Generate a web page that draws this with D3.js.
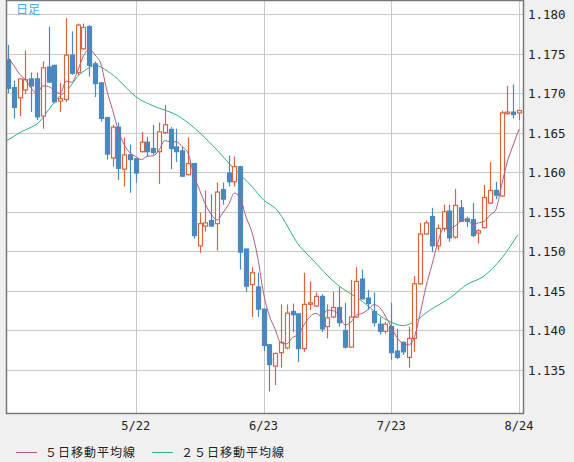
<!DOCTYPE html>
<html><head><meta charset="utf-8">
<script src="https://cdn.jsdelivr.net/npm/d3@7"></script>
<style>body{margin:0;background:#f0f0f0}svg{display:block}</style>
</head><body>
<script>
// daily candles: open, high, low, close
var opens  = [1.1742,1.1707,1.1694,1.1704,1.1718,1.1718,1.1671,1.1733,1.1735,1.1690,1.1692,1.1748,1.1726,1.1756,1.1784,1.1737,1.1713,1.1669,1.1618,1.1657,1.1604,1.1622,1.1617,1.1626,1.1638,1.1630,1.1626,1.1650,1.1654,1.1632,1.1627,1.1597,1.1611,1.1507,1.1532,1.1539,1.1535,1.1578,1.1599,1.1588,1.1607,1.1503,1.1458,1.1455,1.1427,1.1382,1.1355,1.1372,1.1378,1.1424,1.1421,1.1377,1.1434,1.1431,1.1443,1.1405,1.1417,1.1429,1.1400,1.1379,1.1417,1.1465,1.1441,1.1424,1.1408,1.1399,1.1405,1.1374,1.1385,1.1366,1.1390,1.1459,1.1522,1.1544,1.1507,1.1529,1.1551,1.1518,1.1555,1.1541,1.1540,1.1523,1.1530,1.1561,1.1577,1.1570,1.1674,1.1676,1.1675];
var highs  = [1.1761,1.1716,1.1718,1.1754,1.1726,1.1726,1.1740,1.1784,1.1736,1.1713,1.1795,1.1778,1.1788,1.1788,1.1786,1.1740,1.1714,1.1670,1.1660,1.1663,1.1644,1.1635,1.1617,1.1651,1.1645,1.1660,1.1663,1.1685,1.1657,1.1655,1.1632,1.1644,1.1612,1.1549,1.1577,1.1572,1.1587,1.1587,1.1621,1.1620,1.1608,1.1503,1.1480,1.1473,1.1427,1.1383,1.1372,1.1433,1.1433,1.1434,1.1422,1.1473,1.1462,1.1448,1.1446,1.1433,1.1449,1.1455,1.1435,1.1464,1.1480,1.1477,1.1451,1.1448,1.1417,1.1411,1.1435,1.1402,1.1386,1.1405,1.1469,1.1536,1.1539,1.1555,1.1534,1.1559,1.1559,1.1579,1.1565,1.1544,1.1561,1.1528,1.1584,1.1613,1.1588,1.1678,1.1709,1.1711,1.1679];
var lows   = [1.1700,1.1668,1.1671,1.1699,1.1676,1.1666,1.1655,1.1713,1.1687,1.1676,1.1689,1.1723,1.1723,1.1755,1.1721,1.1695,1.1664,1.1616,1.1607,1.1590,1.1582,1.1574,1.1587,1.1625,1.1620,1.1622,1.1585,1.1649,1.1604,1.1613,1.1594,1.1596,1.1516,1.1498,1.1525,1.1531,1.1501,1.1559,1.1582,1.1582,1.1477,1.1449,1.1417,1.1417,1.1374,1.1323,1.1331,1.1353,1.1376,1.1398,1.1360,1.1373,1.1426,1.1430,1.1398,1.1390,1.1416,1.1405,1.1377,1.1378,1.1416,1.1439,1.1426,1.1405,1.1395,1.1396,1.1363,1.1364,1.1369,1.1353,1.1373,1.1458,1.1521,1.1499,1.1501,1.1525,1.1512,1.1516,1.1537,1.1531,1.1518,1.1510,1.1529,1.1560,1.1566,1.1569,1.1673,1.1668,1.1666];
var closes = [1.1706,1.1682,1.1718,1.1717,1.1709,1.1670,1.1732,1.1714,1.1689,1.1693,1.1748,1.1725,1.1786,1.1783,1.1735,1.1712,1.1668,1.1623,1.1657,1.1605,1.1622,1.1616,1.1599,1.1638,1.1626,1.1625,1.1651,1.1660,1.1630,1.1626,1.1595,1.1611,1.1520,1.1535,1.1536,1.1532,1.1575,1.1566,1.1588,1.1607,1.1499,1.1456,1.1473,1.1427,1.1381,1.1357,1.1371,1.1385,1.1422,1.1420,1.1377,1.1433,1.1435,1.1443,1.1402,1.1416,1.1429,1.1410,1.1379,1.1417,1.1462,1.1440,1.1434,1.1410,1.1399,1.1408,1.1372,1.1366,1.1373,1.1390,1.1459,1.1522,1.1536,1.1507,1.1529,1.1550,1.1517,1.1558,1.1538,1.1538,1.1520,1.1526,1.1568,1.1577,1.1571,1.1675,1.1676,1.1673,1.1678];
// 5-day MA before enough closes are on the chart
var ma5Head = [1.1745,1.1735,1.1724,1.1717];
// 25-day MA
var ma25Idx = [-1.4,0,2,4,5,7,9,10,12,13.5,15,17.5,22.7,25,29.6,33,36,38.7,42,44,46.1,50.3,52,56.7,60.6,65.3,68,69.7,72.7,76.1,79,81.8,85.2,87.8];
var ma25Val = [1.1638,1.1641,1.1650,1.1657,1.1661,1.1679,1.1697,1.1702,1.1721,1.1730,1.1735,1.1726,1.1692,1.1684,1.1670,1.1650,1.1628,1.1606,1.1582,1.1565,1.1554,1.1506,1.1493,1.1458,1.1439,1.1413,1.1406,1.1410,1.1426,1.1441,1.1458,1.1468,1.1493,1.1521];
var priceTicks = [1.180,1.175,1.170,1.165,1.160,1.155,1.150,1.145,1.140,1.135];
var dateIdx = [22,44,66,88];
var dateLabels = ["5/22","6/23","7/23","8/24"];

var W = 574, H = 462;
var L = 7, R = 523, T = 0, B = 413;
var svg = d3.select("body").append("svg").attr("width", W).attr("height", H);

var x = d3.scaleLinear().domain([0, 88]).range([8, 519]);
var y = d3.scaleLinear().domain([1.12957, 1.18177]).range([B, T]);

svg.append("rect").attr("x", L).attr("y", T).attr("width", R - L).attr("height", B - T).attr("fill", "#fff");

svg.append("defs").append("clipPath").attr("id", "clip")
  .append("rect").attr("x", L).attr("y", T).attr("width", R - L).attr("height", B - T);

// grid
svg.selectAll(".hg").data(priceTicks).enter().append("line")
  .attr("x1", L).attr("x2", R).attr("y1", d => Math.round(y(d)) + 0.5).attr("y2", d => Math.round(y(d)) + 0.5)
  .attr("stroke", "#c8c8c8");
svg.selectAll(".vg").data(dateIdx).enter().append("line")
  .attr("x1", d => Math.round(x(d)) + 0.5).attr("x2", d => Math.round(x(d)) + 0.5).attr("y1", T).attr("y2", B)
  .attr("stroke", "#c8c8c8");

var g = svg.append("g").attr("clip-path", "url(#clip)");

// moving averages
var ma5 = closes.map(function(c, i) {
  return i < 4 ? ma5Head[i] : d3.mean(closes.slice(i - 4, i + 1));
});
g.append("path").datum(ma25Val)
  .attr("d", d3.line().x((d, i) => x(ma25Idx[i])).y(d => y(d)).curve(d3.curveMonotoneX))
  .attr("fill", "none").attr("stroke", "#2db37c").attr("stroke-width", 1);

// candles
var cw = 4;
closes.forEach(function(c, i) {
  var o = opens[i], up = c >= o, cx = Math.round(x(i)) + 0.5;
  var col = up ? "#d9643f" : "#4a89c0";
  g.append("line").attr("x1", cx).attr("x2", cx).attr("y1", y(highs[i])).attr("y2", y(lows[i]))
    .attr("stroke", col).attr("stroke-width", 1.2);
  var top = y(Math.max(o, c)), bot = y(Math.min(o, c));
  g.append("rect").attr("x", cx - cw / 2).attr("y", top).attr("width", cw).attr("height", Math.max(1.5, bot - top))
    .attr("fill", up ? "#fff" : col).attr("stroke", col).attr("stroke-width", 1.2);
});

g.append("path").datum(ma5)
  .attr("d", d3.line().x((d, i) => x(i)).y(d => y(d)).curve(d3.curveMonotoneX))
  .attr("fill", "none").attr("stroke", "#b05a86").attr("stroke-width", 1);

// frame
svg.append("rect").attr("x", L - 0.5).attr("y", T + 0.5).attr("width", R - L + 1).attr("height", B - T)
  .attr("fill", "none").attr("stroke", "#777").attr("stroke-width", 1.5);

svg.append("text").attr("x", 16).attr("y", 14).text("日足")
  .attr("fill", "#3ab0e8").attr("font-size", 12).attr("font-family", "Noto Sans CJK JP");

svg.selectAll(".pt").data(priceTicks).enter().append("text")
  .attr("x", 528).attr("y", d => y(d) + 5).text(d => d.toFixed(3))
  .attr("font-family", "DejaVu Sans Mono").attr("font-size", 12.5).attr("fill", "#222");

svg.selectAll(".dt").data(dateIdx).enter().append("text")
  .attr("x", d => x(d)).attr("y", 430).attr("text-anchor", "middle").text((d, i) => dateLabels[i])
  .attr("font-family", "DejaVu Sans Mono").attr("font-size", 12).attr("fill", "#222");

var legend = [["５日移動平均線", "#b05a86", 16], ["２５日移動平均線", "#2db37c", 152]];
legend.forEach(function(l) {
  svg.append("line").attr("x1", l[2]).attr("x2", l[2] + 21).attr("y1", 452.5).attr("y2", 452.5).attr("stroke", l[1]);
  svg.append("text").attr("x", l[2] + 29).attr("y", 457).text(l[0])
    .attr("font-family", "Noto Sans CJK JP").attr("font-size", 12).attr("letter-spacing", 1).attr("fill", "#222");
});
</script>
</body></html>
